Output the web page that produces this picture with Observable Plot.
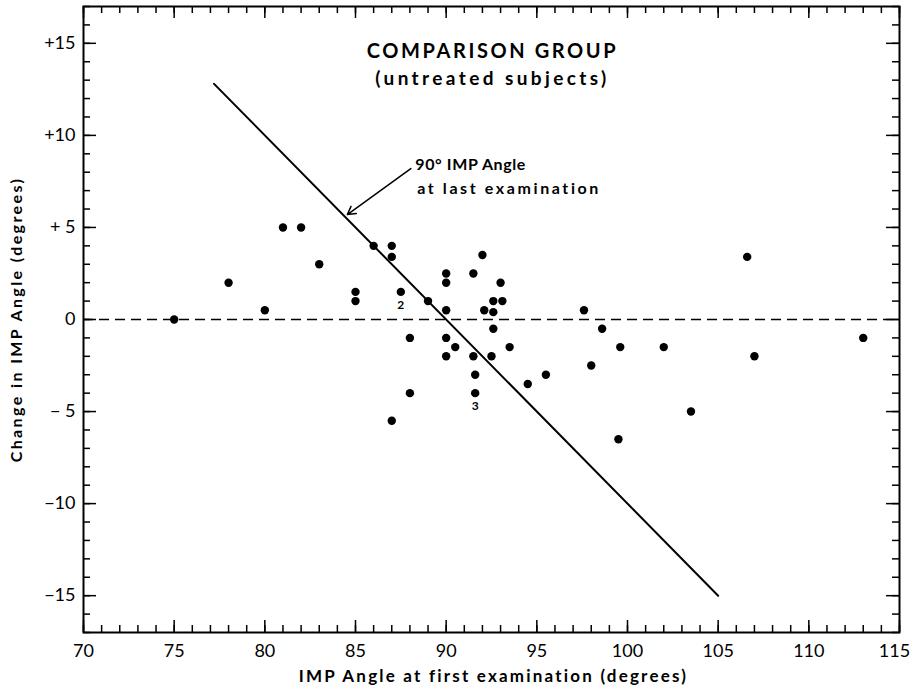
<!DOCTYPE html>
<html><head><meta charset="utf-8">
<script src="https://cdn.jsdelivr.net/npm/d3@7"></script>
<script src="https://cdn.jsdelivr.net/npm/@observablehq/plot@0.6"></script>
<style>body{margin:0;background:#fff}</style>
</head><body><div id="chart"></div>
<script>
// IMP angle at first examination (degrees)
const firstAngle = [75, 78, 80, 81, 82, 83, 85, 85, 86, 87, 87, 87.5, 89, 90, 90, 90, 88, 90, 90, 88, 87,
  90.5, 91.5, 92, 93, 92.6, 93.1, 92.1, 92.6, 92.6, 93.5, 91.5, 92.5, 91.6, 91.6, 94.5, 95.5,
  97.6, 98.6, 99.6, 102, 98, 103.5, 99.5, 107, 113, 106.6];
// Change in IMP angle (degrees)
const changeAngle = [0, 2, 0.5, 5, 5, 3, 1.5, 1, 4, 4, 3.4, 1.5, 1, 2.5, 2, 0.5, -1, -1, -2, -4, -5.5,
  -1.5, 2.5, 3.5, 2, 1, 1, 0.5, 0.4, -0.5, -1.5, -2, -2, -3, -4, -3.5, -3,
  0.5, -0.5, -1.5, -1.5, -2.5, -5, -6.5, -2, -1, 3.4];
// multiplicity labels
const multX = [87.5, 91.6];
const multY = [1.5, -4];
const multN = ["2", "3"];
// 90° IMP angle at last examination (first + change = 90)
const refX = [77.2, 105];
const refY = [12.8, -15];
// annotation arrow
const arrowFrom = [88.05, 8.2];
const arrowTo = [84.55, 5.7];
// ticks
const xTicks = [70, 75, 80, 85, 90, 95, 100, 105, 110, 115];
const xTickLabels = ["70", "75", "80", "85", "90", "95", "100", "105", "110", "115"];
const yTicks = [15, 10, 5, 0, -5, -10, -15];
const yTickLabels = ["+15", "+10", "+ 5", "0", "\u2212 5", "\u221210", "\u221215"];
const xMinor = d3.range(70, 116, 1);
const yMinor = d3.range(-17, 18, 1);

// texts
const title1 = "COMPARISON GROUP";
const title2 = "(untreated subjects)";
const note1 = "90\u00b0 IMP Angle";
const note2 = "at last examination";
const xTitle = "IMP Angle at first examination (degrees)";
const yTitle = "Change in IMP Angle (degrees)";
const spacing = new Map([[title1, 2.6], [title2, 3.4], [note1, 0.6], [note2, 2.6], [xTitle, 2.2], [yTitle, 2.4]]);

const W = 912, H = 690, ML = 83, MR = 13, MT = 6, MB = 58;
const PW = W - ML - MR, PH = H - MT - MB;

const pts = firstAngle.map((x, i) => ({x, y: changeAngle[i]}));
const mult = multX.map((x, i) => ({x, y: multY[i], n: multN[i]}));
const ref = refX.map((x, i) => ({x, y: refY[i]}));
const xLabelFmt = d => xTickLabels[xTicks.indexOf(d)];

const chart = Plot.plot({
  width: W, height: H,
  marginLeft: ML, marginRight: MR, marginTop: MT, marginBottom: MB,
  x: {domain: [70, 115]},
  y: {domain: [-17, 17]},
  style: {fontFamily: "Lato, 'DejaVu Sans', sans-serif", color: "#000", background: "#fff"},
  marks: [
    Plot.tickX(xMinor, {x: d => d, insetTop: PH - 7, strokeWidth: 1.5}),
    Plot.tickX(xMinor, {x: d => d, insetBottom: PH - 7, strokeWidth: 1.5}),
    Plot.tickX(xTicks, {x: d => d, insetTop: PH - 12, strokeWidth: 1.5}),
    Plot.tickX(xTicks, {x: d => d, insetBottom: PH - 12, strokeWidth: 1.5}),
    Plot.tickY(yMinor, {y: d => d, insetRight: PW - 7, strokeWidth: 1.5}),
    Plot.tickY(yMinor, {y: d => d, insetLeft: PW - 7, strokeWidth: 1.5}),
    Plot.tickY(yTicks, {y: d => d, insetRight: PW - 13, strokeWidth: 1.5}),
    Plot.tickY(yTicks, {y: d => d, insetLeft: PW - 13, strokeWidth: 1.5}),
    Plot.frame({strokeWidth: 2}),
    Plot.axisX(xTicks.slice(0, -1), {tickSize: 0, tickPadding: 12, fontSize: 18, label: null, tickFormat: xLabelFmt}),
    Plot.axisX(xTicks.slice(-1), {tickSize: 0, tickPadding: 12, fontSize: 18, label: null, tickFormat: xLabelFmt, dx: -5}),
    Plot.axisY(yTicks, {tickSize: 0, tickPadding: 8, fontSize: 18, label: null,
      tickFormat: d => yTickLabels[yTicks.indexOf(d)]}),
    Plot.ruleY([0], {strokeDasharray: "10,6", strokeWidth: 1.5}),
    Plot.line(ref, {x: "x", y: "y", strokeWidth: 2}),
    Plot.dot(pts, {x: "x", y: "y", r: 4.2, fill: "#000", stroke: null}),
    Plot.text(mult, {x: "x", y: "y", text: "n", dy: 13, fontSize: 12, fontWeight: "bold"}),
    Plot.arrow([0], {x1: () => arrowFrom[0], y1: () => arrowFrom[1], x2: () => arrowTo[0], y2: () => arrowTo[1],
      strokeWidth: 1.5, headLength: 9}),
    Plot.text([note1], {x: () => 88.3, y: () => 8.4, textAnchor: "start", fontSize: 16, fontWeight: "bold"}),
    Plot.text([note2], {x: () => 88.4, y: () => 7.1, textAnchor: "start", fontSize: 16, fontWeight: "bold"}),
    Plot.text([title1], {frameAnchor: "top", lineAnchor: "middle", dy: 45, dx: 1, fontSize: 20, fontWeight: "bold"}),
    Plot.text([title2], {frameAnchor: "top", lineAnchor: "middle", dy: 72, dx: 1, fontSize: 19, fontWeight: "bold"}),
    Plot.text([xTitle], {frameAnchor: "bottom", lineAnchor: "middle", dy: 44, dx: 2, fontSize: 17, fontWeight: "bold"}),
    Plot.text([yTitle], {frameAnchor: "left", textAnchor: "middle", lineAnchor: "middle", dx: -67, rotate: -90, fontSize: 16, fontWeight: "bold"})
  ]
});
d3.select(chart).selectAll("text").each(function() {
  const s = spacing.get(this.textContent);
  if (s != null) this.setAttribute("letter-spacing", s);
});
document.getElementById("chart").append(chart);
</script>
</body></html>
